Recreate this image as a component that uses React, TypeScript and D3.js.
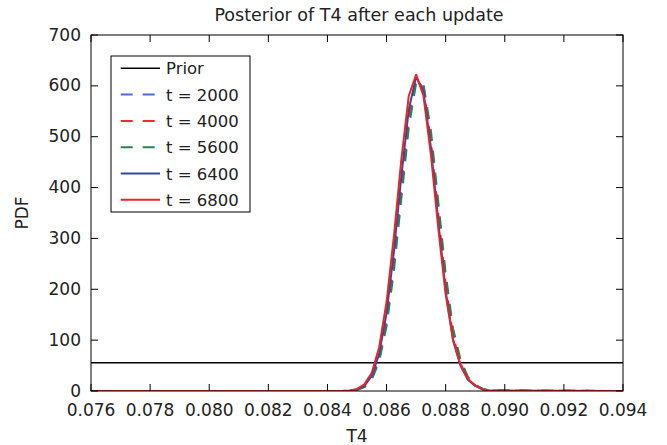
import React from "react";
import * as d3 from "d3";

const title = "Posterior of T4 after each update";
const xLabel = "T4";
const yLabel = "PDF";
const xTicks = [0.076, 0.078, 0.08, 0.082, 0.084, 0.086, 0.088, 0.09, 0.092, 0.094];
const yTicks = [0, 100, 200, 300, 400, 500, 600, 700];

const xGrid = [0.076, 0.0845, 0.08475, 0.085, 0.08525, 0.0855, 0.08575, 0.086, 0.08625, 0.0865, 0.08675, 0.087, 0.08725, 0.0875, 0.08775, 0.088, 0.08825, 0.0885, 0.08875, 0.089, 0.08925, 0.0895, 0.094];
const priorX = [0.076, 0.094];
const priorY = [55.56, 55.56];
const t2000 = [0, 0, 0.6, 2.4, 8.3, 24.5, 62, 134, 248, 391, 528, 608, 599, 503, 362, 222, 116, 58, 26, 12, 4, 1, 0];
const t4000 = [0, 0, 0.7, 2.7, 9.2, 27, 67, 143, 261, 406, 540, 614, 595, 492, 348, 210, 108, 54, 24, 11, 3.5, 0.8, 0];
const t5600 = [0, 0, 0.5, 2.1, 7.5, 22.5, 58, 127, 237, 378, 517, 606, 603, 512, 372, 231, 123, 62, 28, 12, 4, 1, 0];
const t6400 = [0, 0, 0.8, 3, 10.2, 29.5, 73, 153, 275, 422, 553, 618, 589, 479, 333, 197, 100, 50, 22, 10, 3, 0.5, 0];
const t6800 = [0, 0, 0.5, 4, 13, 36, 86, 175, 305, 455, 580, 622, 580, 465, 320, 190, 100, 52, 24, 11, 3, 0.5, 0];

const seriesNames = ["Prior", "t = 2000", "t = 4000", "t = 5600", "t = 6400", "t = 6800"];

export default function App() {
  const W = 667, H = 445;
  const L = 91, R = 623, T = 35, B = 391;
  const x = d3.scaleLinear().domain([0.076, 0.094]).range([L, R]);
  const y = d3.scaleLinear().domain([0, 700]).range([B, T]);
  const line = d3.line<[number, number]>().x(d => x(d[0])).y(d => y(d[1]));
  const font = "DejaVu Sans, sans-serif";

  const series = [
    { name: seriesNames[0], xs: priorX, ys: priorY, color: "#000000", dash: null, w: 1.5 },
    { name: seriesNames[1], xs: xGrid, ys: t2000, color: "#4a6fd4", dash: "12,10", w: 2 },
    { name: seriesNames[2], xs: xGrid, ys: t4000, color: "#ee2b2f", dash: "12,10", w: 2 },
    { name: seriesNames[3], xs: xGrid, ys: t5600, color: "#23874d", dash: "12,10", w: 2 },
    { name: seriesNames[4], xs: xGrid, ys: t6400, color: "#3548a0", dash: null, w: 2 },
    { name: seriesNames[5], xs: xGrid, ys: t6800, color: "#ec2329", dash: null, w: 2 },
  ];

  const tickLen = 7;
  const legX = 111, legY = 56, legW = 139, legH = 156, rowH = 26.3;

  return (
    <svg width={W} height={H} style={{ display: "block", position: "absolute", left: 0, top: 0 }} fontFamily={font}>
      <rect x={0} y={0} width={W} height={H} fill="#fff" />
      <defs>
        <clipPath id="plotclip">
          <rect x={L} y={T} width={R - L} height={B - T} />
        </clipPath>
      </defs>
      <g clipPath="url(#plotclip)">
        {series.map((s, i) => (
          <path
            key={i}
            d={line(s.xs.map((v, j) => [v, s.ys[j]] as [number, number])) || ""}
            fill="none"
            stroke={s.color}
            strokeWidth={s.w}
            strokeDasharray={s.dash || undefined}
            strokeLinejoin="round"
          />
        ))}
      </g>
      <rect x={L} y={T} width={R - L} height={B - T} fill="none" stroke="#000" strokeWidth={1} />
      {xTicks.map((t, i) => (
        <g key={"xt" + i}>
          <line x1={x(t)} x2={x(t)} y1={B} y2={B - tickLen} stroke="#000" />
          <line x1={x(t)} x2={x(t)} y1={T} y2={T + tickLen} stroke="#000" />
          <text x={x(t)} y={416} fontSize={17} textAnchor="middle" fill="#222">{d3.format(".3f")(t)}</text>
        </g>
      ))}
      {yTicks.map((t, i) => (
        <g key={"yt" + i}>
          <line x1={L} x2={L + tickLen} y1={y(t)} y2={y(t)} stroke="#000" />
          <line x1={R} x2={R - tickLen} y1={y(t)} y2={y(t)} stroke="#000" />
          <text x={81} y={y(t) + 5.5} fontSize={17} textAnchor="end" fill="#222">{t}</text>
        </g>
      ))}
      <text x={(L + R) / 2} y={442} fontSize={17} textAnchor="middle" fill="#222">{xLabel}</text>
      <text transform={`translate(28,${(T + B) / 2}) rotate(-90)`} fontSize={17} textAnchor="middle" fill="#222">{yLabel}</text>
      <text x={359} y={21} fontSize={17.5} textAnchor="middle" fill="#222">{title}</text>
      <rect x={legX} y={legY} width={legW} height={legH} fill="#fff" stroke="#000" strokeWidth={1} />
      {series.map((s, i) => {
        const cy = legY + 12.3 + i * rowH;
        return (
          <g key={"lg" + i}>
            <line x1={120.7} x2={160} y1={cy} y2={cy} stroke={s.color} strokeWidth={s.w} strokeDasharray={s.dash || undefined} />
            <text x={166} y={cy + 6} fontSize={16.5} fill="#222">{s.name}</text>
          </g>
        );
      })}
    </svg>
  );
}
